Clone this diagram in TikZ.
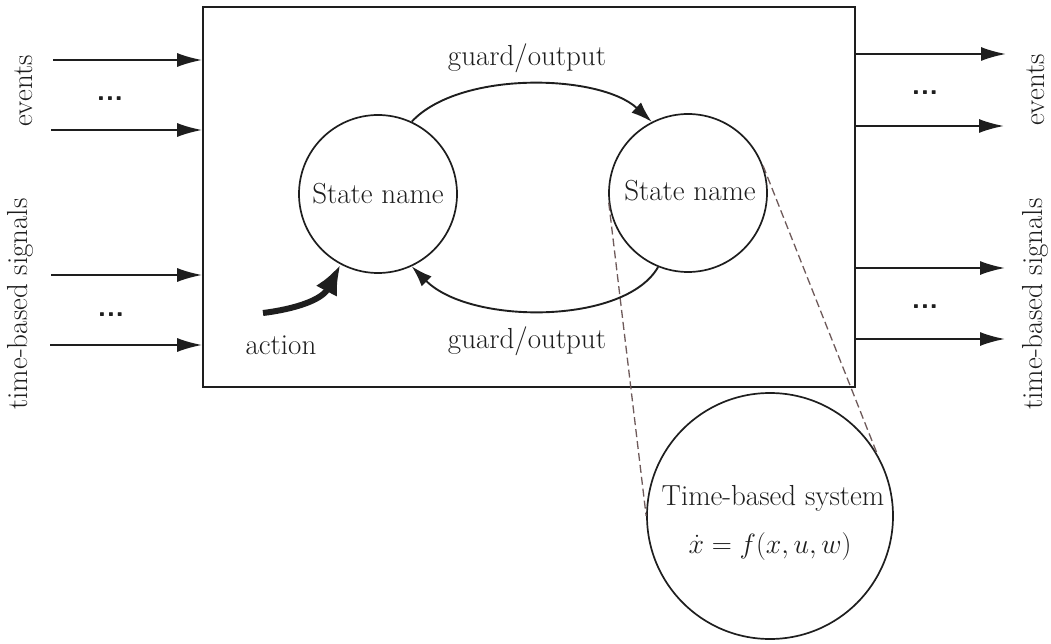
\documentclass[tikz,border=0pt]{standalone}
\usepackage{fontspec}
\usetikzlibrary{arrows.meta}
\definecolor{ln}{RGB}{30,30,30}
\definecolor{dsh}{RGB}{110,90,90}
\tikzset{
  every node/.style={font=\fontsize{29}{34}\selectfont, text=ln},
  io/.style={draw=ln, line width=1.9pt, -{Latex[length=25pt,width=14pt]}},
  arc/.style={draw=ln, line width=1.9pt, -{Latex[length=21pt,width=14pt]}},
  statecirc/.style={circle, draw=ln, line width=1.7pt, inner sep=0pt, minimum size=158pt},
  dotsnode/.style={font=\fontsize{29}{34}\selectfont\sffamily\bfseries, inner sep=0pt},
  zoomline/.style={draw=dsh, line width=1.3pt, dash pattern=on 8pt off 4pt},
  actionarrow/.style={draw=ln, line width=6pt, -{Latex[length=30pt,width=24pt]}}
}
\begin{document}
\begin{tikzpicture}[x=1pt,y=-1pt]
\useasboundingbox (0,0) rectangle (1051,644);
% main box
\node[draw=ln, line width=1.7pt, minimum width=652pt, minimum height=380pt, inner sep=0pt] (box) at (529,197) {};
% states
\node[statecirc] (s1) at (378,194) {State name};
\node[statecirc] (s2) at (688,193) {};
\node (s2t) at (690,191) {State name};
% time-based system
\node[circle, draw=ln, line width=1.7pt, inner sep=0pt, minimum size=246pt] (sys) at (770,516) {};
\node[inner sep=0pt] (syst) at (773,498) {Time-based system};
\node[inner sep=0pt] (syseq) at (770,547) {\scalebox{1.12}{$\dot{x} = f(x,u,w)$}};
% zoom lines
\draw[zoomline] (s2.187) -- (sys.180);
\draw[zoomline] (s2.20) -- (sys.30);
% transitions
\draw[arc] (s1.65) .. controls (460,70) and (600,74) .. (s2.117);
\draw[arc] (s2.-112) .. controls (625,325) and (470,325) .. (s1.-65);
\node (g1) at (527,58) {guard/output};
\node (g2) at (527,341) {guard/output};
% action
\coordinate (act0) at (263,313);
\draw[actionarrow] (act0) .. controls (295,309) and (322,300) .. (s1.-118);
\node (act) at (281,345) {action};
% left inputs
\coordinate (ei1) at (53,60);
\coordinate (ei2) at (51,130);
\coordinate (ti1) at (51,275);
\coordinate (ti2) at (50,345);
\draw[io] (ei1) -- (ei1 -| box.west);
\draw[io] (ei2) -- (ei2 -| box.west);
\draw[io] (ti1) -- (ti1 -| box.west);
\draw[io] (ti2) -- (ti2 -| box.west);
\node[dotsnode] (d1) at (110,99) {...};
\node[dotsnode] (d2) at (111,315) {...};
% right outputs
\coordinate (eo1) at (1006,54);
\coordinate (eo2) at (1004,126);
\coordinate (to1) at (1005,268);
\coordinate (to2) at (1005,339);
\draw[io] (eo1 -| box.east) -- (eo1);
\draw[io] (eo2 -| box.east) -- (eo2);
\draw[io] (to1 -| box.east) -- (to1);
\draw[io] (to2 -| box.east) -- (to2);
\node[dotsnode] (d3) at (925,93) {...};
\node[dotsnode] (d4) at (925,307) {...};
% side labels
\node[rotate=90] (lev) at (24,91) {events};
\node[rotate=90] (lts) at (20,304) {time-based signals};
\node[rotate=90] (rev) at (1036,90) {events};
\node[rotate=90] (rts) at (1035,304) {time-based signals};
\end{tikzpicture}
\end{document}
